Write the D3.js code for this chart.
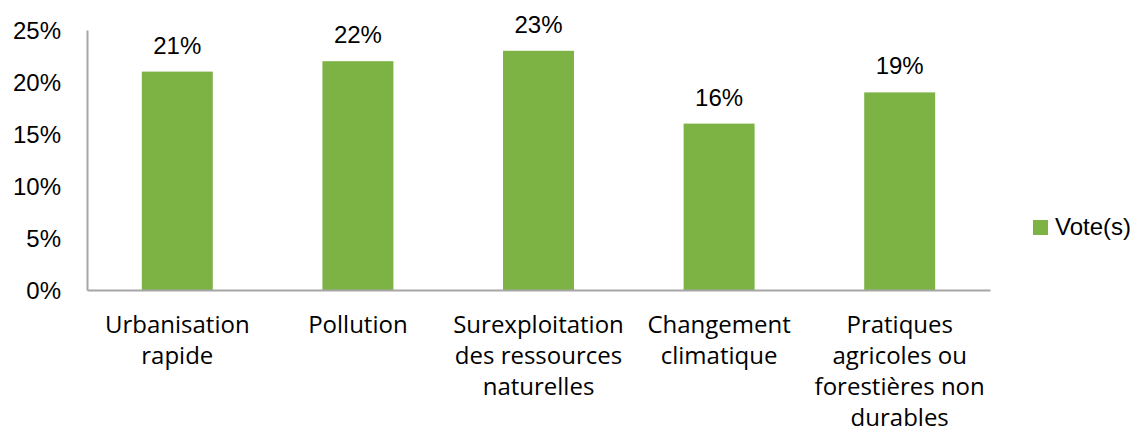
<!DOCTYPE html>
<html><head><meta charset="utf-8">
<script src="https://cdn.jsdelivr.net/npm/d3@7"></script>
<style>
html,body{margin:0;padding:0;background:#fff;}
svg{display:block;}
</style></head>
<body>
<svg id="chart" width="1137" height="432"></svg>
<script>
const categories = [
  ["Urbanisation","rapide"],
  ["Pollution"],
  ["Surexploitation","des ressources","naturelles"],
  ["Changement","climatique"],
  ["Pratiques","agricoles ou","forestières non","durables"]
];
const categoryKeys = ["Urbanisation rapide","Pollution","Surexploitation des ressources naturelles","Changement climatique","Pratiques agricoles ou forestières non durables"];
const votes = [0.21, 0.22, 0.23, 0.16, 0.19];
const yTicks = [0, 0.05, 0.10, 0.15, 0.20, 0.25];
const seriesName = "Vote(s)";

const svg = d3.select("#chart");
const green = "#7db344";
const axisColor = "#a6a6a6";
const numFont = "'Liberation Sans', Arial, sans-serif";
const catFont = "'Open Sans', sans-serif";

const x = d3.scaleBand().domain(categoryKeys).range([87, 990]).paddingInner(0.607).paddingOuter(0.3035);
const y = d3.scaleLinear().domain([0, 0.25]).range([290, 30]);
const fmt = d3.format(".0%");

// bars
svg.append("g").selectAll("rect").data(votes).join("rect")
  .attr("x", (d,i) => x(categoryKeys[i]))
  .attr("y", d => y(d))
  .attr("width", x.bandwidth())
  .attr("height", d => y(0) - y(d))
  .attr("fill", green);

// value labels
svg.append("g").selectAll("text").data(votes).join("text")
  .attr("x", (d,i) => x(categoryKeys[i]) + x.bandwidth()/2)
  .attr("y", d => y(d) - 18)
  .attr("text-anchor", "middle")
  .attr("font-family", numFont)
  .attr("font-size", 24)
  .attr("fill", "#000")
  .text(d => fmt(d));

// y axis
const yAxis = d3.axisLeft(y).tickValues(yTicks).tickFormat(fmt).tickSize(0).tickPadding(26);
const gy = svg.append("g").attr("transform", "translate(87,0)").call(yAxis);
gy.select(".domain").attr("stroke", axisColor).attr("stroke-width", 2);
gy.selectAll("text").attr("font-family", numFont).attr("font-size", 24).attr("fill", "#000").attr("dy", "0.36em");

// x axis
const xAxis = d3.axisBottom(x).tickSize(0).tickFormat("");
const gx = svg.append("g").attr("transform", "translate(0,290)").call(xAxis);
gx.select(".domain").attr("stroke", axisColor).attr("stroke-width", 2);

// category labels
const lab = svg.append("g").selectAll("text").data(categories).join("text")
  .attr("text-anchor", "middle")
  .attr("font-family", catFont)
  .attr("font-size", 24)
  .attr("fill", "#000");
lab.each(function(lines, i){
  const t = d3.select(this);
  lines.forEach((ln, j) => {
    t.append("tspan")
      .attr("x", x(categoryKeys[i]) + x.bandwidth()/2)
      .attr("y", 332.5 + j*31.2)
      .text(ln);
  });
});

// legend
const lg = svg.append("g");
lg.append("rect").attr("x", 1033).attr("y", 220).attr("width", 15).attr("height", 15).attr("fill", green);
lg.append("text").attr("x", 1055).attr("y", 235).attr("font-family", numFont).attr("font-size", 24).attr("fill", "#000").text(seriesName);
</script>
</body></html>
